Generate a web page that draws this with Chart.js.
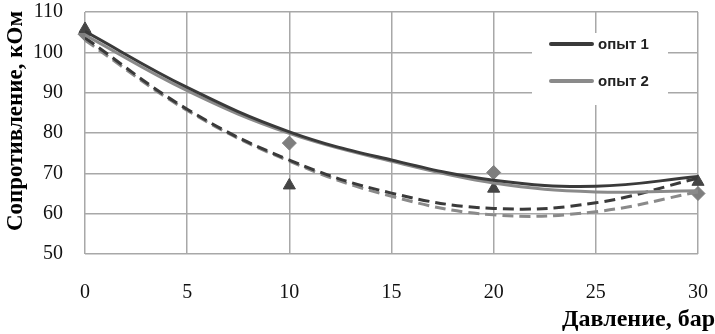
<!DOCTYPE html>
<html>
<head>
<meta charset="utf-8">
<script src="https://cdn.jsdelivr.net/npm/chart.js@4/dist/chart.umd.min.js"></script>
<style>
  html, body { margin: 0; padding: 0; background: #fff; }
  #wrap { width: 715px; height: 334px; }
</style>
</head>
<body>
<div id="wrap"><canvas id="c" width="715" height="334"></canvas></div>
<script>
// ---- data ----
const pressure = [0, 5, 10, 15, 20, 25, 30];           // x positions of curve readings, бар
const trend1Solid  = [105.2, 91.3, 80.3, 73.3, 68.3, 66.8, 69.2];   // опыт 1 (solid dark)
const trend2Solid  = [104.3, 90.5, 79.9, 73.0, 67.6, 65.4, 65.7];   // опыт 2 (solid gray)
const trend1Dashed = [103.6, 85.9, 73.3, 65.1, 61.3, 62.7, 68.8];   // dashed dark
const trend2Dashed = [103.0, 85.6, 73.0, 64.3, 59.7, 60.5, 65.4];   // dashed gray

const measX = [0, 10, 20, 30];
const measTriangles = [105.8, 67.0, 66.2, 67.9];   // dark triangles
const measDiamonds  = [104.5, 77.5, 70.2, 65.0];   // gray diamonds

const xTicks = [0, 5, 10, 15, 20, 25, 30];
const yTicks = [50, 60, 70, 80, 90, 100, 110];
const legendLabels = ['опыт 1', 'опыт 2'];
const xTitle = 'Давление, бар';
const yTitle = 'Сопротивление, кОм';

const DARK = '#3a3a3a';
const GRAY = '#8a8a8a';

const pts = (xs, ys) => xs.map((x, i) => ({ x: x, y: ys[i] }));

const lineDs = (label, ys, color, dashed) => ({
  type: 'line',
  label: label,
  data: pts(pressure, ys),
  borderColor: color,
  borderWidth: 3,
  borderDash: dashed ? [11, 6] : [],
  pointRadius: 0,
  tension: 0.4,
  fill: false
});

const overlayPlugin = {
  id: 'overlay',
  afterDatasetsDraw(chart) {
    const ctx = chart.ctx;
    ctx.save();
    // legend box
    ctx.fillStyle = '#ffffff';
    ctx.fillRect(532, 33, 136, 72);
    const items = [
      { label: legendLabels[0], color: DARK, y: 44 },
      { label: legendLabels[1], color: GRAY, y: 81 }
    ];
    items.forEach(it => {
      ctx.strokeStyle = it.color;
      ctx.lineWidth = 4;
      ctx.lineCap = 'round';
      ctx.beginPath();
      ctx.moveTo(551, it.y);
      ctx.lineTo(592, it.y);
      ctx.stroke();
      ctx.fillStyle = '#222';
      ctx.font = 'bold 15px "Liberation Sans", Arial, sans-serif';
      ctx.textAlign = 'left';
      ctx.textBaseline = 'middle';
      ctx.fillText(it.label, 598, it.y + 1);
    });
    // x axis title
    ctx.fillStyle = '#000';
    ctx.font = 'bold 24px "Liberation Serif", "Times New Roman", serif';
    ctx.textAlign = 'right';
    ctx.textBaseline = 'alphabetic';
    ctx.fillText(xTitle, 715, 326);
    // y axis title
    ctx.translate(16, 121);
    ctx.rotate(-Math.PI / 2);
    ctx.font = 'bold 23px "Liberation Serif", "Times New Roman", serif';
    ctx.textAlign = 'center';
    ctx.textBaseline = 'middle';
    ctx.fillText(yTitle, 0, 0);
    ctx.restore();
  }
};

new Chart(document.getElementById('c'), {
  type: 'line',
  data: {
    datasets: [
      lineDs(legendLabels[0], trend1Solid, DARK, false),
      lineDs(legendLabels[1], trend2Solid, GRAY, false),
      lineDs('dashed 1', trend1Dashed, DARK, true),
      lineDs('dashed 2', trend2Dashed, GRAY, true),
      {
        type: 'scatter',
        label: 'meas 1',
        data: pts(measX, measTriangles),
        pointStyle: 'triangle',
        pointRadius: 7,
        backgroundColor: '#454545',
        borderColor: '#454545',
        showLine: false,
        clip: false
      },
      {
        type: 'scatter',
        label: 'meas 2',
        data: pts(measX, measDiamonds),
        pointStyle: 'rectRot',
        pointRadius: 7,
        backgroundColor: '#7e7e7e',
        borderColor: '#7e7e7e',
        showLine: false,
        clip: false
      }
    ]
  },
  options: {
    responsive: false,
    animation: false,
    layout: { padding: { left: 0, right: 17, top: 12, bottom: 0 } },
    plugins: { legend: { display: false }, tooltip: { enabled: false } },
    scales: {
      x: {
        type: 'linear',
        min: 0, max: 30,
        afterBuildTicks(scale) { scale.ticks = xTicks.map(v => ({ value: v })); },
        afterFit(scale) { scale.height = 80; scale.paddingLeft = 0; scale.paddingRight = 0; },
        grid: { color: '#a8a8a8', lineWidth: 1.5, drawTicks: false },
        border: { display: false },
        ticks: {
          padding: 27,
          maxRotation: 0,
          color: '#111',
          font: { family: '"Liberation Serif", "Times New Roman", serif', size: 20 }
        },
        title: { display: false }
      },
      y: {
        min: 50, max: 110,
        afterBuildTicks(scale) { scale.ticks = yTicks.map(v => ({ value: v })); },
        afterFit(scale) { scale.width = 85; scale.paddingTop = 0; scale.paddingBottom = 0; },
        grid: { color: '#a8a8a8', lineWidth: 1.5, drawTicks: false },
        border: { display: false },
        ticks: {
          padding: 22,
          color: '#111',
          font: { family: '"Liberation Serif", "Times New Roman", serif', size: 20 }
        },
        title: { display: false }
      }
    }
  },
  plugins: [overlayPlugin]
});
</script>
</body>
</html>
